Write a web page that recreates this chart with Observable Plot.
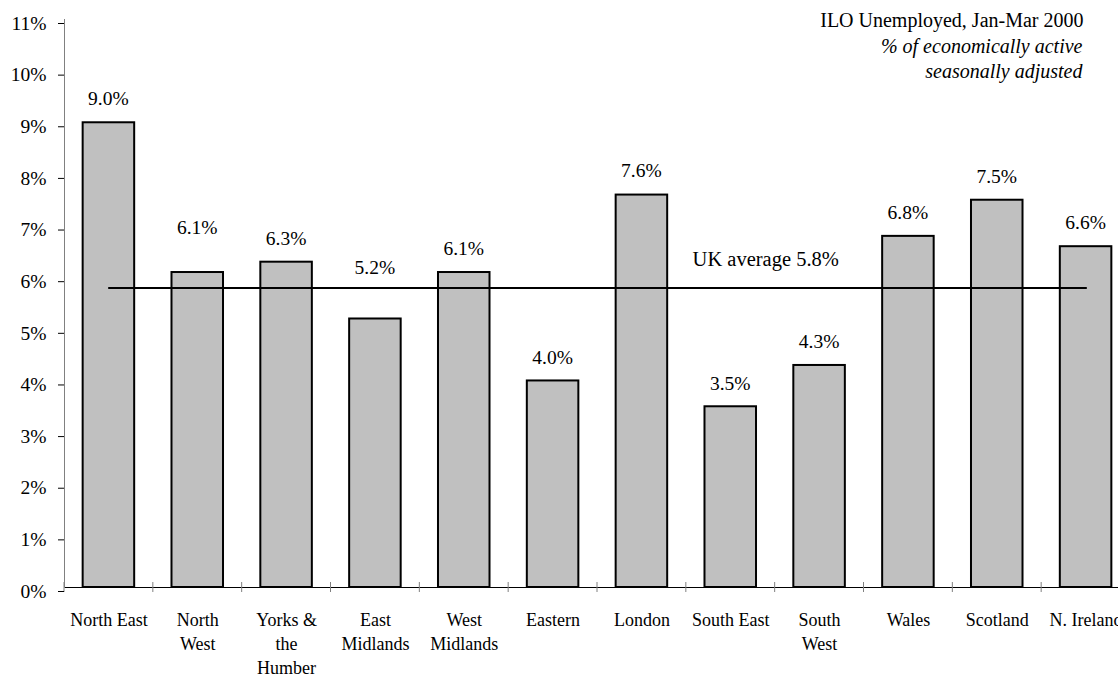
<!DOCTYPE html>
<html>
<head>
<meta charset="utf-8">
<script src="https://cdn.jsdelivr.net/npm/d3@7"></script>
<script src="https://cdn.jsdelivr.net/npm/@observablehq/plot@0.6"></script>
<style>
  html, body { margin: 0; padding: 0; background: #fff; overflow: hidden; }
  #chart { width: 1118px; height: 675px; overflow: hidden; }
  #chart svg { display: block; max-width: none !important; }
  #chart svg text, #chart svg tspan {
    font-family: "Liberation Serif", "Times New Roman", Times, serif !important;
  }
</style>
</head>
<body>
<div id="chart"></div>
<script>
// ILO unemployment rate by UK region, Jan-Mar 2000 (% of economically active)
const regions = [
  "North East", "North\nWest", "Yorks &\nthe\nHumber", "East\nMidlands",
  "West\nMidlands", "Eastern", "London", "South East", "South\nWest",
  "Wales", "Scotland", "N. Ireland"
];
const rates = [9.0, 6.1, 6.3, 5.2, 6.1, 4.0, 7.6, 3.5, 4.3, 6.8, 7.5, 6.6];
const ukAverage = 5.8;
const yTicks = [0, 1, 2, 3, 4, 5, 6, 7, 8, 9, 10, 11];

// Distance (px) from each bar top to its value label; a few are lifted clear of the average line
const labelGap = [24, 44, 23, 51, 23, 23, 24, 23, 23, 23, 23, 23];

const titleLine = "ILO Unemployed, Jan-Mar 2000";
const subtitleLines = "% of economically active\nseasonally adjusted";
const averageLabel = `UK average ${ukAverage.toFixed(1)}%`;

const data = regions.map((region, i) => ({region, rate: rates[i], gap: labelGap[i]}));
const averageLine = [
  {region: regions[0], rate: ukAverage},
  {region: regions[regions.length - 1], rate: ukAverage}
];

const serif = "'Liberation Serif', 'Times New Roman', Times, serif";

// Small tick marks at the edges between region bands, straddling the baseline
function bandEdgeTicks(index, scales, values, dims) {
  const x = scales.x;
  const y0 = scales.y(0);
  const step = typeof x.step === "function"
    ? x.step()
    : (dims.width - dims.marginLeft - dims.marginRight) / regions.length;
  const bw = typeof x.bandwidth === "function" ? x.bandwidth() : step * 0.58;
  const gap = (step - bw) / 2;
  const edges = regions.map((r) => x(r) - gap);
  edges.push(x(regions[regions.length - 1]) + bw + gap);
  const g = d3.create("svg:g").attr("stroke", "#808080").attr("stroke-width", 1);
  g.selectAll("line")
    .data(edges)
    .join("line")
    .attr("x1", (d) => d)
    .attr("x2", (d) => d)
    .attr("y1", y0 - 5)
    .attr("y2", y0 + 5);
  return g.node();
}

// Value labels, each offset above its bar by its own gap
function valueLabels(index, scales) {
  const x = scales.x;
  const bw = typeof x.bandwidth === "function" ? x.bandwidth() : 0;
  const g = d3.create("svg:g")
    .attr("font-size", 19.5)
    .attr("text-anchor", "middle")
    .attr("fill", "#000");
  g.selectAll("text")
    .data(data)
    .join("text")
    .attr("x", (d) => x(d.region) + bw / 2)
    .attr("y", (d) => scales.y(d.rate) - d.gap)
    .attr("dy", "0.32em")
    .text((d) => d.rate.toFixed(1) + "%");
  return g.node();
}

const chart = Plot.plot({
  width: 1130,
  height: 675,
  marginLeft: 64,
  marginRight: 0,
  marginTop: 19,
  marginBottom: 88,
  style: {fontFamily: serif, color: "#000", background: "#fff", maxWidth: "none"},
  x: {domain: regions, paddingInner: 0.42, paddingOuter: 0.21, round: false, label: null},
  y: {domain: [0, 11], label: null},
  marks: [
    Plot.barY(data, {
      x: "region", y: "rate",
      fill: "#c0c0c0", stroke: "#000", strokeWidth: 2
    }),
    valueLabels,
    Plot.line(averageLine, {x: "region", y: "rate", stroke: "#000", strokeWidth: 2}),
    Plot.text([averageLabel], {
      x: () => regions[7], y: () => ukAverage,
      text: (d) => d, dx: 35, dy: -29, fontSize: 20.5, fill: "#000", fontFamily: serif
    }),
    Plot.ruleY([0], {stroke: "#000", strokeWidth: 1.2}),
    Plot.frame({anchor: "left", stroke: "#808080"}),
    bandEdgeTicks,
    Plot.axisY({
      ticks: yTicks, tickFormat: (d) => d + "%",
      tickSize: 6, tickPadding: 12, fontSize: 19.5, dy: 4, fontFamily: serif
    }),
    Plot.axisX({
      tickSize: 0, tickPadding: 21, fontSize: 18, lineHeight: 1.35, fontFamily: serif
    }),
    Plot.text([titleLine], {
      frameAnchor: "top-right", text: (d) => d, lineAnchor: "top",
      dx: -47, dy: -7, fontSize: 20, fill: "#000", textAnchor: "end", fontFamily: serif
    }),
    Plot.text([subtitleLines], {
      frameAnchor: "top-right", text: (d) => d, lineAnchor: "top",
      dx: -48, dy: 16, fontSize: 20, fontStyle: "italic",
      lineHeight: 1.25, fill: "#000", textAnchor: "end", fontFamily: serif
    })
  ]
});

document.getElementById("chart").appendChild(chart);
</script>
</body>
</html>
